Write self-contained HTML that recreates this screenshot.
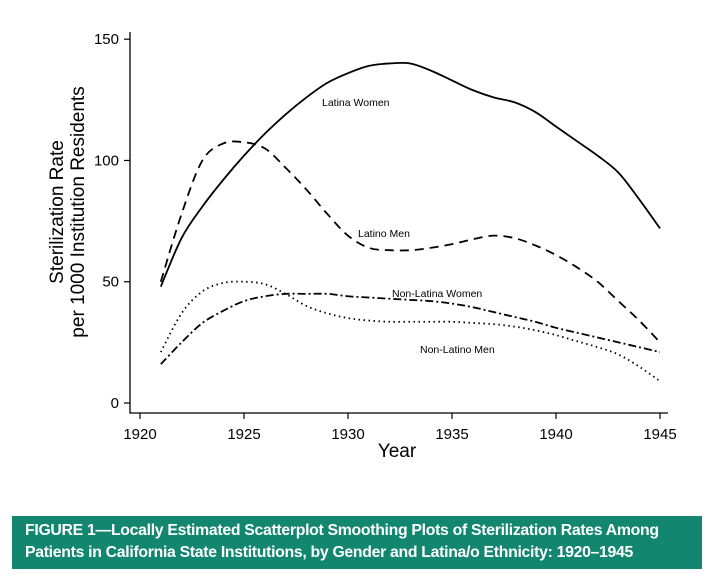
<!DOCTYPE html>
<html><head><meta charset="utf-8"><style>
body{margin:0;background:#fff;width:718px;height:583px;overflow:hidden;font-family:"Liberation Sans",sans-serif}
#banner{position:absolute;left:12px;top:516px;width:690px;height:53px;background:#138670;color:#fff;font-weight:bold;font-size:15.8px;line-height:22px;box-sizing:border-box;padding:4px 0 0 13px;letter-spacing:-0.3px;white-space:nowrap}
</style></head><body>
<svg id="chart" width="718" height="510" style="position:absolute;left:0;top:0" font-family="Liberation Sans, sans-serif"></svg>
<div id="banner">FIGURE 1—Locally Estimated Scatterplot Smoothing Plots of Sterilization Rates Among<br>Patients in California State Institutions, by Gender and Latina/o Ethnicity: 1920–1945</div>
<script>
const years=[1921,1922,1923,1924,1925,1926,1927,1928,1929,1930,1931,1932,1933,1934,1935,1936,1937,1938,1939,1940,1941,1942,1943,1944,1945];
const latinaWomen=[48,68,81,92,102,111,119,126,132,136,139,140,140,137,133,129,126,124,120,114,108,102,95,84,72];
const latinoMen=[50,78,100,107,107.5,105,97,88,78,69,64,63,63,64,65.5,67.5,69,68,65,61,56,50,42,34,25];
const nonLatinaWomen=[16,25,33,38,42,44,45,45,45,44,43.5,43,42.5,42,41,39.5,37.5,35.5,33.5,31,29,27,25,23,21];
const nonLatinoMen=[21,37,46,49.5,50,49,45,40,37,35,34,33.5,33.5,33.5,33.5,33,32.5,31.5,30,28,25.5,23,20,15,9];
const xTicks=[1920,1925,1930,1935,1940,1945];
const yTicks=[0,50,100,150];
const NS="http://www.w3.org/2000/svg";
const svg=document.getElementById('chart');
const xs=y=>140+(y-1920)*20.8;
const ys=v=>403-v*2.4253;
function mk(t,a){const e=document.createElementNS(NS,t);for(const k in a)e.setAttribute(k,a[k]);svg.appendChild(e);return e;}
let ax=mk('path',{d:'M130,32V413H668',fill:'none',stroke:'#000','stroke-width':1.3});


xTicks.forEach(t=>{
 const l=mk('line',{x1:xs(t),x2:xs(t),y1:413,y2:419,stroke:'#000','stroke-width':1.2});
 
 
 const tx=mk('text',{x:xs(t),y:439,'text-anchor':'middle','font-size':15});
 tx.textContent=t;
 
 
});
yTicks.forEach(t=>{
 const l=mk('line',{x1:124,x2:130,y1:ys(t),y2:ys(t),stroke:'#000','stroke-width':1.2});
 
 
 const tx=mk('text',{x:119,y:ys(t)+5,'text-anchor':'end','font-size':15});
 tx.textContent=t;
 
 
});
function path(vals){
 const p=vals.map((v,i)=>[xs(years[i]),ys(v)]);
 let d='M'+p[0][0]+','+p[0][1];
 for(let i=0;i<p.length-1;i++){
  const p0=p[Math.max(i-1,0)],p1=p[i],p2=p[i+1],p3=p[Math.min(i+2,p.length-1)];
  d+=`C${p1[0]+(p2[0]-p0[0])/6},${p1[1]+(p2[1]-p0[1])/6} ${p2[0]-(p3[0]-p1[0])/6},${p2[1]-(p3[1]-p1[1])/6} ${p2[0]},${p2[1]}`;
 }
 return d;
}
const series=[[latinaWomen,'none','latina-women-line'],[latinoMen,'9 6','latino-men-line'],[nonLatinaWomen,'8 3 2 3','non-latina-women-line'],[nonLatinoMen,'1.5 3.5','non-latino-men-line']];
series.forEach(s=>{
 const e=mk('path',{d:path(s[0]),fill:'none',stroke:'#000','stroke-width':1.8,'stroke-dasharray':s[1]});
 
 
});
const labels=[['Latina Women',322,106],['Latino Men',358,237],['Non-Latina Women',392,297],['Non-Latino Men',420,353]];
labels.forEach(l=>{
 const t=mk('text',{x:l[1],y:l[2],'font-size':10.5});
 t.textContent=l[0];
 
 
});
const yt=mk('text',{transform:'translate(0,212) rotate(-90)','text-anchor':'middle','font-size':19});


yt.innerHTML='<tspan x="0" y="63">Sterilization Rate</tspan><tspan x="0" y="84">per 1000 Institution Residents</tspan>';
const xt=mk('text',{x:397,y:457,'text-anchor':'middle','font-size':19});
xt.textContent='Year';


</script>
</body></html>
